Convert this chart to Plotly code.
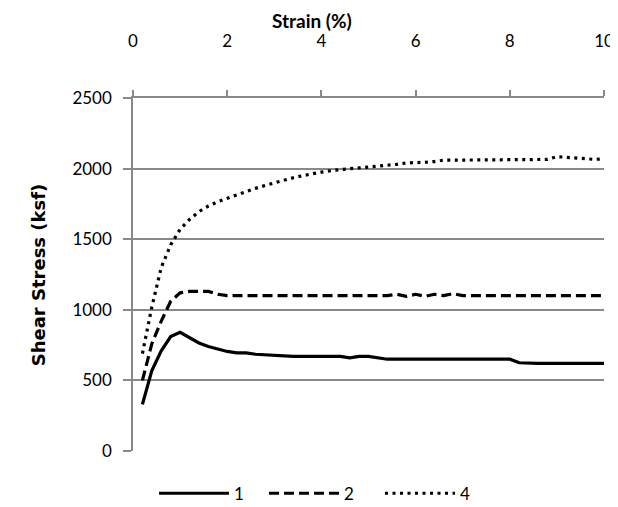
import plotly.graph_objects as go

strain = [round(0.2 * i, 1) for i in range(1, 51)]

s1 = [330, 570, 710, 810, 840, 800, 765, 740, 720, 705,
      695, 695, 685, 680, 680, 675, 670, 670, 670, 670,
      670, 670, 660, 670, 670, 660, 650, 650, 650, 650,
      650, 650, 650, 650, 650, 650, 650, 650, 650, 650,
      625, 620, 620, 620, 620, 620, 620, 620, 620, 620]

s2 = [500, 760, 920, 1060, 1120, 1130, 1130, 1130, 1110, 1100,
      1100, 1100, 1100, 1100, 1100, 1100, 1100, 1100, 1100, 1100,
      1100, 1100, 1100, 1100, 1100, 1100, 1100, 1110, 1095, 1110,
      1095, 1110, 1100, 1115, 1100, 1100, 1100, 1100, 1100, 1100,
      1100, 1100, 1100, 1100, 1100, 1100, 1100, 1100, 1100, 1100]

s4 = [690, 1020, 1300, 1460, 1570, 1640, 1695, 1735, 1765, 1790,
      1815, 1840, 1860, 1880, 1900, 1920, 1935, 1950, 1965, 1975,
      1985, 1995, 2000, 2005, 2010, 2015, 2020, 2030, 2040, 2040,
      2045, 2050, 2060, 2060, 2060, 2060, 2060, 2060, 2060, 2060,
      2060, 2060, 2065, 2065, 2085, 2080, 2070, 2070, 2065, 2070]

names = ["1", "2", "4"]
dashes = ["solid", "10px,5px", "3px,4.5px"]
x_ticks = [0, 2, 4, 6, 8, 10]
y_ticks = [0, 500, 1000, 1500, 2000, 2500]
x_title = "Strain (%)"
y_title = "Shear Stress (ksf)"

legend_ids = ["legend", "legend2", "legend3"]
legend_left_px = [146, 256, 372]

fig = go.Figure()
for name, ys, d, lid in zip(names, [s1, s2, s4], dashes, legend_ids):
    fig.add_trace(go.Scatter(x=strain, y=ys, mode="lines", name=name,
                             legend=lid,
                             line=dict(color="black", width=3.2, dash=d)))

grid = "#898989"
tickfont = dict(family="Lato, Open Sans, sans-serif", size=17, color="black")

legends = {}
for lid, px in zip(legend_ids, legend_left_px):
    legends[lid] = dict(orientation="h", xref="container", yref="container",
                        x=px / 618, xanchor="left", y=0.042, yanchor="middle",
                        font=tickfont, itemwidth=70, bgcolor="rgba(0,0,0,0)")

fig.update_layout(
    width=618, height=507,
    margin=dict(l=125, r=18, t=90, b=64),
    paper_bgcolor="white", plot_bgcolor="white",
    font=dict(family="Lato, Open Sans, sans-serif", size=17, color="black"),
    showlegend=True,
    xaxis=dict(side="top", range=[0, 10], tickvals=x_ticks,
               showgrid=False, showline=True, linecolor=grid, linewidth=1.5,
               ticks="outside", ticklen=6, tickcolor=grid, tickwidth=1.5,
               zeroline=False, ticklabelstandoff=36, tickfont=tickfont),
    yaxis=dict(range=[0, 2500], tickvals=y_ticks,
               showgrid=True, gridcolor=grid, gridwidth=1.5,
               showline=True, linecolor=grid, linewidth=1.5,
               ticks="outside", ticklen=8, tickcolor=grid, tickwidth=1.5,
               zeroline=False, ticklabelstandoff=8, tickfont=tickfont),
    annotations=[
        dict(text="<b>" + x_title + "</b>", xref="paper", yref="paper",
             x=(306 - 125) / 475, y=(443 - 12) / 353, xanchor="center",
             yanchor="middle", showarrow=False, borderpad=0,
             font=dict(family="Lato, sans-serif", size=19)),
        dict(text="<b>" + y_title + "</b>", xref="paper", yref="paper",
             x=(30 - 125) / 475, y=0.5, xanchor="center", yanchor="middle",
             textangle=-90, showarrow=False,
             font=dict(family="DejaVu Sans, sans-serif", size=18)),
    ],
    **legends,
)

fig.write_html("out.html")
